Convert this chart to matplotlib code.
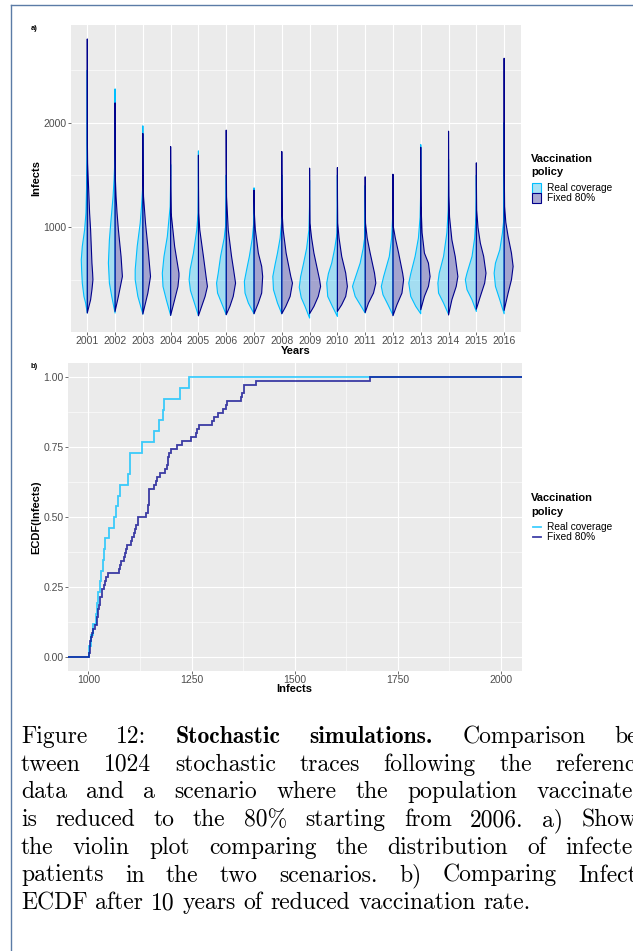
import numpy as np
import matplotlib
matplotlib.use("Agg")
import matplotlib.pyplot as plt
from matplotlib.patches import Polygon, Rectangle
from matplotlib.lines import Line2D

# ---------------- data ----------------
years = [str(y) for y in range(2001, 2017)]
policies = ["Real coverage", "Fixed 80%"]

# violin half profiles: (infects, relative density) from minimum to maximum
real_profiles = [
    [(185,0),(280,5),(343,10),(470,15),(597,17),(692,18),(819,15),(978,8),(1137,4),(1454,1.5),(1676,0.5),(2500,0)],
    [(185,0),(343,10),(470,17),(661,20),(883,17),(1041,13),(1295,6),(1454,3),(1613,1),(1900,0.3),(2321,0)],
    [(175,0),(343,15),(502,23),(597,23),(819,17),(1041,8),(1200,4),(1359,1),(1600,0.3),(1969,0)],
    [(162,0),(311,13),(438,23),(565,25),(724,20),(914,10),(1200,1.5),(1400,0.3),(1600,0)],
    [(159,0),(280,12),(400,24),(502,28),(600,25),(756,15),(978,5),(1137,1),(1400,0.3),(1730,0)],
    [(169,0),(280,14),(375,26),(470,29),(565,24),(724,17),(900,6),(1041,1),(1300,0.2),(1500,0)],
    [(178,0),(280,17),(375,27),(486,29),(600,22),(724,14),(900,5),(1041,1),(1250,0.3),(1378,0)],
    [(178,0),(280,13),(407,25),(533,27),(650,20),(756,13),(900,5),(1041,1),(1300,0.2),(1500,0)],
    [(137,0),(250,14),(330,25),(430,31),(530,27),(660,18),(800,9),(978,2),(1200,0.3),(1450,0)],
    [(152,0),(248,15),(343,29),(470,32),(560,27),(661,17),(800,8),(946,1),(1200,0.2),(1500,0)],
    [(185,0),(264,15),(343,30),(438,38),(470,35),(661,15),(800,6),(914,1),(1150,0.2),(1400,0)],
    [(165,0),(264,15),(359,30),(438,35),(533,28),(724,11),(900,4),(1100,1),(1295,0.3),(1350,0)],
    [(178,0),(248,15),(343,30),(470,36),(560,30),(724,17),(900,7),(1100,2),(1300,0.5),(1790,0)],
    [(172,0),(280,15),(375,30),(470,32),(565,28),(724,15),(950,5),(1168,1),(1400,0.3),(1650,0)],
    [(200,0),(311,13),(407,28),(502,33),(565,28),(724,13),(900,5),(1105,1),(1300,0.2),(1500,0)],
    [(178,0),(311,13),(438,26),(565,30),(661,26),(787,13),(950,5),(1073,1),(1400,0.3),(2000,0)],
]
fixed_profiles = [
    [(185,0),(248,5),(311,10),(407,14),(502,17),(565,16),(661,14),(819,12),(978,10),(1137,7),(1295,5),(1454,3),(1613,1),(1800,0.4),(2797,0)],
    [(200,0),(343,10),(533,22),(724,18),(978,10),(1137,6),(1295,3),(1454,1),(1700,0.3),(2188,0)],
    [(175,0),(375,15),(533,23),(819,15),(1041,8),(1295,2),(1500,0.5),(1896,0)],
    [(162,0),(311,12),(438,22),(533,25),(565,25),(819,12),(1137,1.5),(1400,0.4),(1771,0)],
    [(159,0),(343,20),(438,27),(530,23),(724,15),(978,4),(1137,1),(1400,0.3),(1689,0)],
    [(169,0),(248,11),(343,21),(470,28),(600,22),(724,16),(978,6),(1295,1),(1600,0.3),(1928,0)],
    [(178,0),(280,13),(375,23),(533,26),(629,23),(756,13),(978,4),(1137,1),(1250,0.3),(1356,0)],
    [(178,0),(248,12),(343,25),(470,32),(533,27),(756,13),(978,4),(1137,1),(1400,0.3),(1724,0)],
    [(178,0),(248,13),(343,26),(438,33),(502,30),(756,13),(900,6),(1041,1),(1300,0.3),(1566,0)],
    [(200,0),(264,13),(343,25),(438,30),(565,25),(724,13),(900,5),(1041,1),(1300,0.3),(1571,0)],
    [(190,0),(280,10),(375,25),(470,32),(565,28),(756,15),(900,6),(1041,1),(1250,0.3),(1483,0)],
    [(159,0),(264,12),(375,27),(502,32),(565,29),(756,17),(900,7),(1010,1),(1250,0.3),(1508,0)],
    [(216,0),(343,11),(438,23),(533,28),(661,23),(756,11),(950,4),(1200,1),(1450,0.3),(1765,0)],
    [(166,0),(311,10),(438,23),(533,28),(724,20),(883,10),(1100,3),(1300,1),(1600,0.3),(1918,0)],
    [(222,0),(343,12),(470,25),(565,29),(724,22),(851,12),(1000,5),(1168,1),(1400,0.3),(1616,0)],
    [(210,0),(375,12),(502,22),(629,27),(756,22),(914,12),(1050,5),(1200,1.5),(1500,0.5),(2000,0.2),(2613,0)],
]

# ECDF samples (infects) after 10 years
real_ecdf = [1002, 1007, 1012, 1018, 1020, 1024, 1028, 1031, 1035, 1037, 1041, 1051, 1063,
             1067, 1071, 1077, 1097, 1100, 1101, 1131, 1158, 1171, 1181, 1182, 1223, 1243]
fixed_ecdf = [1002, 1003, 1004, 1005, 1006, 1009, 1011, 1016, 1020, 1021,
              1023, 1024, 1025, 1027, 1028, 1032, 1033, 1037, 1040, 1043,
              1048, 1074, 1076, 1079, 1086, 1089, 1092, 1094, 1104, 1106,
              1110, 1112, 1116, 1120, 1121, 1139, 1145, 1145, 1146, 1147,
              1147, 1148, 1158, 1163, 1167, 1173, 1185, 1191, 1192, 1194,
              1196, 1199, 1214, 1226, 1248, 1261, 1264, 1269, 1299, 1304,
              1315, 1327, 1333, 1335, 1369, 1373, 1376, 1378, 1407, 1683]

caption_lines = [
    [("Figure", "r"), ("12:", "r"), ("Stochastic", "b"), ("simulations.", "b"), ("Comparison", "r"), ("be-", "r")],
    "tween 1024 stochastic traces following the reference",
    "data and a scenario where the population vaccinated",
    "is reduced to the 80% starting from 2006. a) Shows",
    "the violin plot comparing the distribution of infected",
    "patients in the two scenarios. b) Comparing Infects",
    "ECDF after 10 years of reduced vaccination rate.",
]

# ---------------- style ----------------
W, H = 633, 951
CYAN = "#00BFFF"
DARK = "#00008B"
FILL_CYAN = (0.0, 0.75, 1.0, 0.3)
FILL_DARK = (0.0, 0.0, 0.545, 0.3)
PANEL = "#EBEBEB"
SANS = "Liberation Sans"
TICKC = "#4D4D4D"

fig = plt.figure(figsize=(W / 100, H / 100), dpi=100)
fig.patch.set_facecolor("white")


def fx(x):
    return x / W


def fy(y):
    return 1 - y / H


def style_axes(ax):
    ax.set_facecolor(PANEL)
    for s in ax.spines.values():
        s.set_visible(False)
    ax.grid(which="major", color="white", linewidth=0.85)
    ax.grid(which="minor", color="white", linewidth=0.4)
    ax.set_axisbelow(True)
    ax.tick_params(which="major", length=2.2, width=0.5, color="#333333",
                   labelsize=7.5, labelcolor=TICKC, pad=0.8)
    ax.tick_params(which="minor", length=0)
    for lab in ax.get_xticklabels() + ax.get_yticklabels():
        lab.set_family(SANS)


# ---------------- panel a: violins ----------------
ax1 = fig.add_axes([fx(70.6), fy(332), (520.8 - 70.6) / W, (332 - 25) / H])
ax1.set_xlim(0.4, 16.6)
ax1.set_ylim(4, 2930)
dscale = 1 / 83.4
for i, yr in enumerate(years):
    c = i + 1
    for prof, side, fc, ec in ((real_profiles[i], -1, FILL_CYAN, CYAN),
                               (fixed_profiles[i], 1, FILL_DARK, DARK)):
        v = np.array([p[0] for p in prof], float)
        d = np.array([p[1] for p in prof], float)
        xs = np.concatenate([c + side * d * dscale, [c, c]])
        ys = np.concatenate([v, [v[-1], v[0]]])
        ax1.add_patch(Polygon(np.column_stack([xs, ys]), closed=True,
                              facecolor=fc, edgecolor=ec, linewidth=0.8,
                              joinstyle="round"))
ax1.set_xticks(range(1, 17))
ax1.set_xticklabels(years)
ax1.set_yticks([1000, 2000])
ax1.set_yticks([500, 1500, 2500], minor=True)
style_axes(ax1)

fig.text(fx(296), fy(351), "Years", family=SANS, weight="bold", size=8,
         ha="center", va="center")
fig.text(fx(36), fy(178.5), "Infects", family=SANS, weight="bold", size=8,
         ha="center", va="center", rotation=90)
fig.text(fx(31), fy(29), "a)", family=SANS, weight="bold", size=5.5,
         ha="left", va="center")

# legend a
fig.text(fx(531), fy(159), "Vaccination", family=SANS, weight="bold", size=8,
         ha="left", va="center")
fig.text(fx(531), fy(172), "policy", family=SANS, weight="bold", size=8,
         ha="left", va="center")
for k, (lab, fc, ec) in enumerate(((policies[0], FILL_CYAN, CYAN),
                                   (policies[1], FILL_DARK, DARK))):
    y0 = 183 + 10 * k
    fig.add_artist(Rectangle((fx(531.5), fy(y0 + 9.5)), 9 / W, 9 / H,
                             transform=fig.transFigure, facecolor="#F2F2F2",
                             edgecolor="none"))
    fig.add_artist(Rectangle((fx(531.5), fy(y0 + 9.5)), 9 / W, 9 / H,
                             transform=fig.transFigure, facecolor=fc,
                             edgecolor=ec, linewidth=0.8))
    fig.text(fx(547), fy(y0 + 5), lab, family=SANS, size=7.3,
             ha="left", va="center")

# ---------------- panel b: ECDF ----------------
ax2 = fig.add_axes([fx(67.8), fy(670.7), (521.6 - 67.8) / W, (670.7 - 363.3) / H])
XL = (950, 2050)
ax2.set_xlim(*XL)
ax2.set_ylim(-0.05, 1.05)
for data, col in ((real_ecdf, CYAN), (fixed_ecdf, DARK)):
    s = np.sort(np.array(data, float))
    n = len(s)
    xs = np.concatenate([[XL[0]], s, [XL[1]]])
    ys = np.concatenate([[0], np.arange(1, n + 1) / n, [1]])
    ax2.plot(xs, ys, drawstyle="steps-post", color=col, alpha=0.75,
             linewidth=1.3, solid_joinstyle="miter")
ax2.set_xticks([1000, 1250, 1500, 1750, 2000])
ax2.set_xticks([1125, 1375, 1625, 1875], minor=True)
ax2.set_yticks([0, 0.25, 0.5, 0.75, 1.0])
ax2.set_yticklabels(["0.00", "0.25", "0.50", "0.75", "1.00"])
ax2.set_yticks([0.125, 0.375, 0.625, 0.875], minor=True)
style_axes(ax2)

fig.text(fx(294.7), fy(689), "Infects", family=SANS, weight="bold", size=8,
         ha="center", va="center")
fig.text(fx(36), fy(517), "ECDF(Infects)", family=SANS, weight="bold", size=8,
         ha="center", va="center", rotation=90)
fig.text(fx(31), fy(367), "b)", family=SANS, weight="bold", size=5.5,
         ha="left", va="center")

fig.text(fx(531), fy(498), "Vaccination", family=SANS, weight="bold", size=8,
         ha="left", va="center")
fig.text(fx(531), fy(512), "policy", family=SANS, weight="bold", size=8,
         ha="left", va="center")
for k, (lab, col) in enumerate(((policies[0], CYAN), (policies[1], DARK))):
    yy = 527 + 10 * k
    fig.add_artist(Line2D([fx(532.5), fx(540.5)], [fy(yy), fy(yy)],
                          transform=fig.transFigure, color=col, alpha=0.75,
                          linewidth=1.3))
    fig.text(fx(547), fy(yy), lab, family=SANS, size=7.3, ha="left", va="center")

# ---------------- page frame ----------------
fig.add_artist(Line2D([fx(10.8), fx(10.8)], [fy(5), fy(951)],
                      transform=fig.transFigure, color="#5B7BA6", linewidth=1.0))
fig.add_artist(Line2D([fx(10.8), fx(633)], [fy(5), fy(5)],
                      transform=fig.transFigure, color="#5B7BA6", linewidth=1.0))

# ---------------- caption (justified lines, text block wider than crop) ----------------
CAP_SIZE = 17
renderer = fig.canvas.get_renderer()
x_left = 21
x_right = 646
base0, dline = 743, 27.7
fams = {"r": "cmr10", "b": "cmb10"}


def word_width(word, fam):
    t = fig.text(0, 0, word, family=fam, size=CAP_SIZE)
    w = t.get_window_extent(renderer).width
    t.remove()
    return w


space_nat = word_width("a b", "cmr10") - word_width("ab", "cmr10")
for li, line in enumerate(caption_lines):
    if isinstance(line, str):
        words = [(w, "r") for w in line.split(" ")]
    else:
        words = line
    widths = [word_width(w, fams[f]) for w, f in words]
    yb = base0 + dline * li
    if li < len(caption_lines) - 1:
        gap = (x_right - x_left - sum(widths)) / (len(words) - 1)
    else:
        gap = space_nat
    x = x_left
    for (w, f), wd in zip(words, widths):
        fig.text(fx(x), fy(yb), w, family=fams[f], size=CAP_SIZE,
                 ha="left", va="baseline")
        x += wd + gap

fig.savefig("out.png", dpi=100)
